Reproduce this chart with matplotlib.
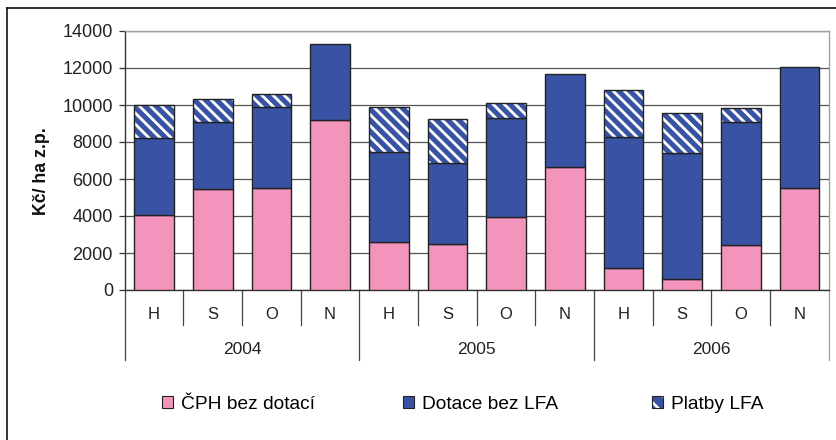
import matplotlib.pyplot as plt
from matplotlib.lines import Line2D
from matplotlib.patches import Patch
from matplotlib.legend_handler import HandlerTuple


years = ["2004", "2005", "2006"]
months = ["H", "S", "O", "N"]
cph_bez_dotaci = [4030, 5440, 5510, 9210, 2620, 2470, 3960, 6670, 1210, 600, 2420, 5510]
dotace_bez_lfa = [4170, 3630, 4390, 4070, 4840, 4390, 5340, 4980, 7080, 6820, 6650, 6540]
platby_lfa = [1800, 1230, 670, 0, 2440, 2370, 800, 0, 2500, 2140, 760, 0]
yticks = [0, 2000, 4000, 6000, 8000, 10000, 12000, 14000]

PINK = "#F394BD"
BLUE = "#3953A4"
EDGE = "#222222"
GRID = "#555555"

plt.rcParams["font.family"] = ["Liberation Sans", "DejaVu Sans"]
plt.rcParams["hatch.linewidth"] = 2.0


def main():
    fig = plt.figure(figsize=(8.36, 4.40), dpi=100)
    W, H = 836, 440
    ax = fig.add_axes([124.7 / W, 1 - 290 / H, (828.7 - 124.7) / W, (290 - 31) / H])

    n = len(cph_bez_dotaci)
    x = list(range(n))
    width = 0.675
    bottom2 = cph_bez_dotaci
    bottom3 = [a + b for a, b in zip(cph_bez_dotaci, dotace_bez_lfa)]

    ax.bar(x, cph_bez_dotaci, width, color=PINK, edgecolor=EDGE, linewidth=1.0, zorder=3)
    ax.bar(x, dotace_bez_lfa, width, bottom=bottom2, color=BLUE, edgecolor=EDGE,
           linewidth=1.0, zorder=3)

    xs = [xi for xi, v in zip(x, platby_lfa) if v > 0]
    vs = [v for v in platby_lfa if v > 0]
    bs = [b for b, v in zip(bottom3, platby_lfa) if v > 0]
    ax.bar(xs, vs, width, bottom=bs, color=BLUE, edgecolor="white", hatch="\\\\\\",
           linewidth=0, zorder=3)
    ax.bar(xs, vs, width, bottom=bs, fill=False, edgecolor=EDGE, linewidth=1.0, zorder=4)

    ax.set_xlim(-0.5, n - 0.5)
    ax.set_ylim(0, 14000)
    ax.set_yticks(yticks)
    ax.set_yticklabels([str(t) for t in yticks], fontsize=13, color="#222222")
    ax.tick_params(axis="y", direction="out", length=4.5, width=0.9, color="#333333", pad=4)
    ax.set_xticks([])
    ax.yaxis.grid(True, color=GRID, linewidth=0.9)
    ax.set_axisbelow(True)

    for side in ["top", "right"]:
        ax.spines[side].set_color("#a0a0a0")
        ax.spines[side].set_linewidth(1.0)
    ax.spines["left"].set_color("#333333")
    ax.spines["bottom"].set_color("#333333")
    ax.spines["left"].set_linewidth(1.0)
    ax.spines["bottom"].set_linewidth(1.0)

    # two-level category axis
    trans = ax.get_xaxis_transform()
    for i in range(n):
        ax.text(i, -0.0965, months[i % len(months)], transform=trans, ha="center",
                va="center", fontsize=12, color="#222222")
    for i in range(1, n):
        if i % len(months) != 0:
            ax.add_line(Line2D([i - 0.5, i - 0.5], [0, -0.135], transform=trans,
                               color="#444444", linewidth=0.9, clip_on=False))
    for k, yr in enumerate(years):
        ax.text(k * 4 + 1.5, -0.228, yr, transform=trans, ha="center", va="center",
                fontsize=12.5, color="#222222")
    for k in range(len(years) + 1):
        xpos = k * 4 - 0.5
        color = "#a0a0a0" if k == len(years) else "#444444"
        ax.add_line(Line2D([xpos, xpos], [0, -0.27], transform=trans,
                           color=color, linewidth=0.9, clip_on=False))

    fig.text(42 / W, 1 - 171 / H, "Kč/ ha z.p.", rotation=90, ha="center", va="center",
             fontsize=12.8, fontweight="bold", color="#111111")

    # outer frame (top and left visible)
    fig.add_artist(Line2D([7 / W, 1], [1 - 8 / H, 1 - 8 / H], transform=fig.transFigure,
                          color="#111111", linewidth=1.2))
    fig.add_artist(Line2D([7 / W, 7 / W], [0, 1 - 8 / H], transform=fig.transFigure,
                          color="#111111", linewidth=1.2))

    # legend entries placed one by one
    h_pink = Patch(facecolor=PINK, edgecolor=EDGE, linewidth=0.8)
    h_blue = Patch(facecolor=BLUE, edgecolor=EDGE, linewidth=0.8)
    h_hatch = (Patch(facecolor=BLUE, edgecolor="white", hatch="\\\\", linewidth=0),
               Patch(facecolor="none", edgecolor=EDGE, linewidth=0.8))
    entries = [(h_pink, "ČPH bez dotací", 162), (h_blue, "Dotace bez LFA", 403),
               (h_hatch, "Platby LFA", 652)]
    for handle, label, px in entries:
        fig.legend([handle], [label], loc="center left",
                   bbox_to_anchor=(px / W, 1 - 404 / H), frameon=False, fontsize=13.8,
                   borderpad=0, borderaxespad=0, handlelength=0.58, handleheight=0.58,
                   handletextpad=0.42,
                   handler_map={tuple: HandlerTuple(ndivide=1, pad=0)})

    fig.savefig("out.png", dpi=100)
    plt.close(fig)


if __name__ == "__main__":
    main()
